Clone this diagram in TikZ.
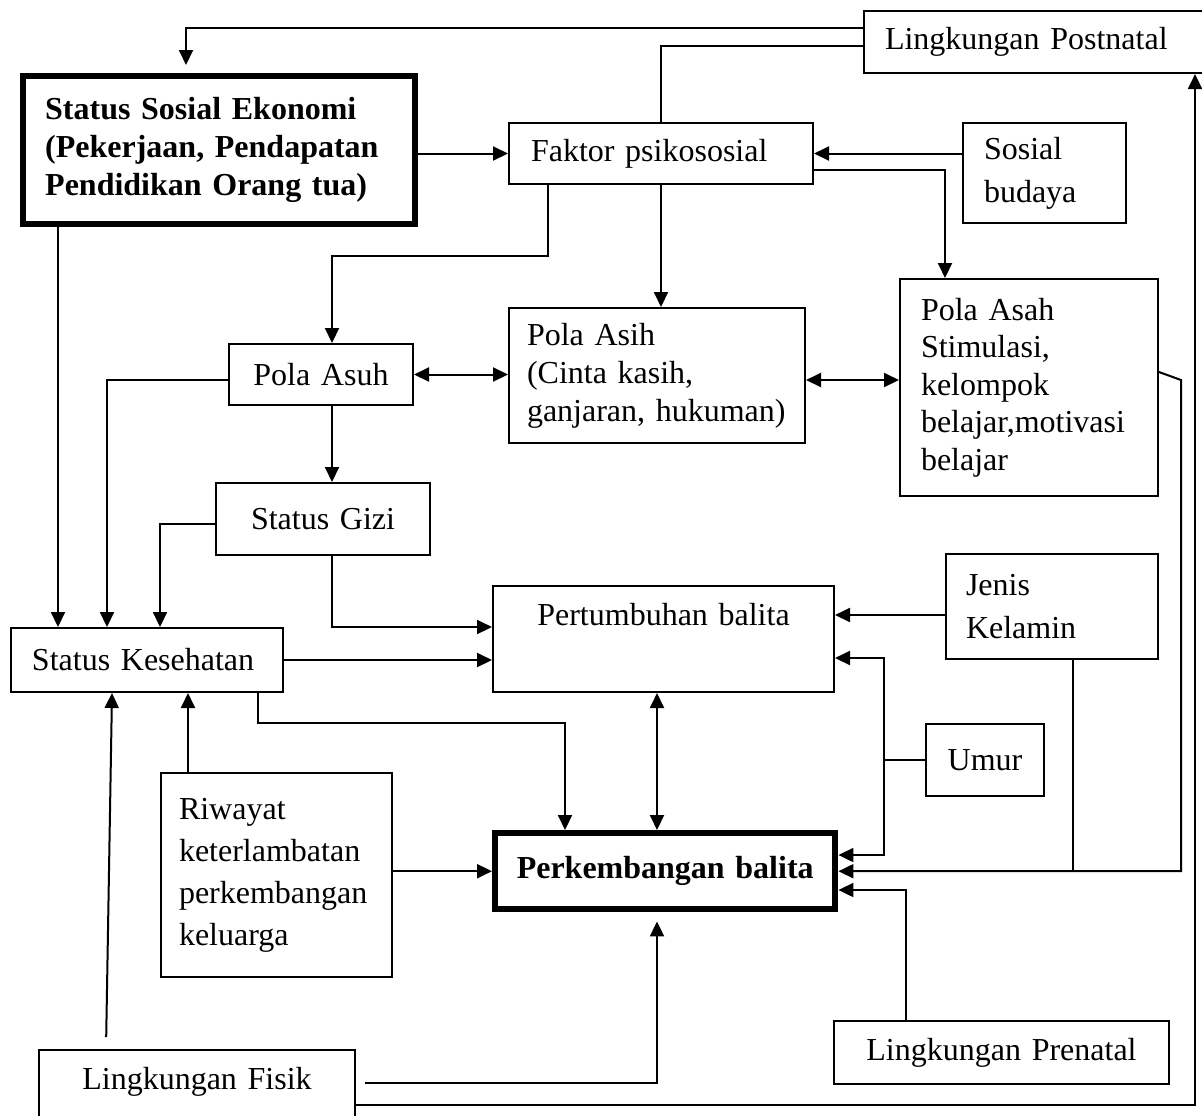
\documentclass[tikz,border=0pt]{standalone}
\usepackage{fontspec}
\setmainfont{Liberation Serif}
\usetikzlibrary{arrows.meta}
\tikzset{
  kotak/.style={draw, line width=1pt, anchor=north west, inner xsep=10.5pt, inner ysep=0pt,
    align=left, font=\fontsize{16pt}{19pt}\selectfont},
  tebal/.style={kotak, line width=3.2pt, font=\fontsize{16pt}{19pt}\selectfont\bfseries},
  garis/.style={line width=1pt},
  panah/.style={garis, -{Triangle[length=7.5pt,width=7pt]}},
  panahdua/.style={garis, {Triangle[length=7.5pt,width=7pt]}-{Triangle[length=7.5pt,width=7pt]}},
}
\begin{document}
\begin{tikzpicture}[x=0.5pt,y=-0.5pt]
  \useasboundingbox (0,0) rectangle (1202,1115);
  \clip (0,0) rectangle (1202,1115);
  % kotak
  \node[kotak, text width=155pt, minimum height=31pt] (postnatal) at (863,10) {Lingkungan Postnatal};
  \node[tebal, inner xsep=11pt, text width=174pt, minimum height=74pt] (sse) at (20,73)
    {Status Sosial Ekonomi\\(Pekerjaan, Pendapatan\\Pendidikan Orang tua)};
  \node[kotak, inner xsep=11pt, text width=130pt, minimum height=30.5pt] (faktor) at (508,122) {Faktor psikososial};
  \node[kotak, text width=60.5pt, minimum height=50pt, font=\fontsize{16pt}{21.5pt}\selectfont] (sosbud) at (962,122) {Sosial\\budaya};
  \node[kotak, text width=108pt, minimum height=108.5pt, font=\fontsize{16pt}{18.75pt}\selectfont] (asah) at (899,278)
    {Pola Asah\\Stimulasi,\\kelompok\\belajar,motivasi\\belajar};
  \node[kotak, inner xsep=9pt, text width=130pt, minimum height=67.5pt] (asih) at (508,307)
    {Pola Asih\\(Cinta kasih,\\ganjaran, hukuman)};
  \node[kotak, align=center, text width=71pt, minimum height=30.5pt] (asuh) at (228,343) {Pola Asuh};
  \node[kotak, align=center, text width=86pt, minimum height=36pt] (gizi) at (215,482) {Status Gizi};
  \node[kotak, text width=115pt, minimum height=32pt] (sehat) at (10,627) {Status Kesehatan};
  \node[kotak, align=center, text width=149.5pt, minimum height=53pt, text height=11pt, text depth=25pt] (tumbuh) at (492,585) {Pertumbuhan balita};
  \node[kotak, inner xsep=10pt, text width=86pt, minimum height=52.5pt, font=\fontsize{16pt}{21.5pt}\selectfont] (kelamin) at (945,553) {Jenis\\Kelamin};
  \node[kotak, align=center, text width=38pt, minimum height=36pt] (umur) at (925,723) {Umur};
  \node[kotak, inner xsep=9pt, text width=97.5pt, minimum height=102pt, font=\fontsize{16pt}{21pt}\selectfont] (riwayat) at (160,772)
    {Riwayat\\keterlambatan\\perkembangan\\keluarga};
  \node[tebal, align=center, inner xsep=10pt, text width=150pt, minimum height=38pt] (kembang) at (492,830) {Perkembangan balita};
  \node[kotak, align=center, text width=146.5pt, minimum height=31.5pt] (prenatal) at (833,1020) {Lingkungan Prenatal};
  \node[kotak, align=center, text width=137pt, text height=19.5pt, text depth=30pt] (fisik) at (38,1049) {Lingkungan Fisik};
  % garis dan panah
  \draw[panah, shorten >=4pt] (postnatal.west |- 0,28) -| (186,0 |- sse.north);
  \draw[garis] (postnatal.west |- 0,46) -| (faktor.north);
  \draw[panah] (sse.east |- faktor.west) -- (faktor.west);
  \draw[panah] (sosbud.west |- faktor.east) -- (faktor.east);
  \draw[panah] (faktor.east |- 0,170) -| (945,0 |- asah.north);
  \draw[panah] (faktor.south) -- (faktor.south |- asih.north);
  \draw[panah] (548,0 |- faktor.south) |- (332,256) -- (332,0 |- asuh.north);
  \draw[panahdua] (asuh.east) -- (asuh.east -| asih.west);
  \draw[panahdua] (asih.east |- 0,380) -- (asah.west |- 0,380);
  \draw[panah] (332,0 |- asuh.south) -- (332,0 |- gizi.north);
  \draw[panah] (58,0 |- sse.south) -- (58,0 |- sehat.north);
  \draw[panah] (asuh.west |- 0,380) -| (107,0 |- sehat.north);
  \draw[panah] (gizi.west |- 0,524) -| (160,0 |- sehat.north);
  \draw[panah] (332,0 |- gizi.south) |- (tumbuh.west |- 0,627);
  \draw[panah] (sehat.east) -- (sehat.east -| tumbuh.west);
  \draw[panah] (asah.east |- 0,372) -- (1181,380) |- (kembang.east);
  \draw[panah] (kelamin.west |- 0,615) -- (tumbuh.east |- 0,615);
  \draw[garis] (1073,0 |- kelamin.south) -- (1073,0 |- kembang.east);
  \coordinate (cabang) at (884,0 |- umur.west);
  \draw[garis] (umur.west) -- (cabang);
  \draw[panah] (cabang) |- (tumbuh.east |- 0,658);
  \draw[panah] (cabang) |- (kembang.east |- 0,855);
  \draw[panah] (906,0 |- prenatal.north) |- (kembang.east |- 0,890);
  \draw[panahdua] (657,0 |- tumbuh.south) -- (657,0 |- kembang.north);
  \draw[panah] (258,0 |- sehat.south) |- (565,723) -- (565,0 |- kembang.north);
  \draw[panah] (188,0 |- riwayat.north) -- (188,0 |- sehat.south);
  \draw[panah] (riwayat.east |- kembang.west) -- (kembang.west);
  \draw[panah, shorten <=6pt] (106,0 |- fisik.north) -- (112,0 |- sehat.south);
  \draw[panah, shorten <=4.5pt, shorten >=4.5pt] (fisik.north east |- 0,1083) -| (657,0 |- kembang.south);
  \draw[panah] (fisik.north east |- 0,1105) -| (1195,0 |- postnatal.south);
\end{tikzpicture}
\end{document}
